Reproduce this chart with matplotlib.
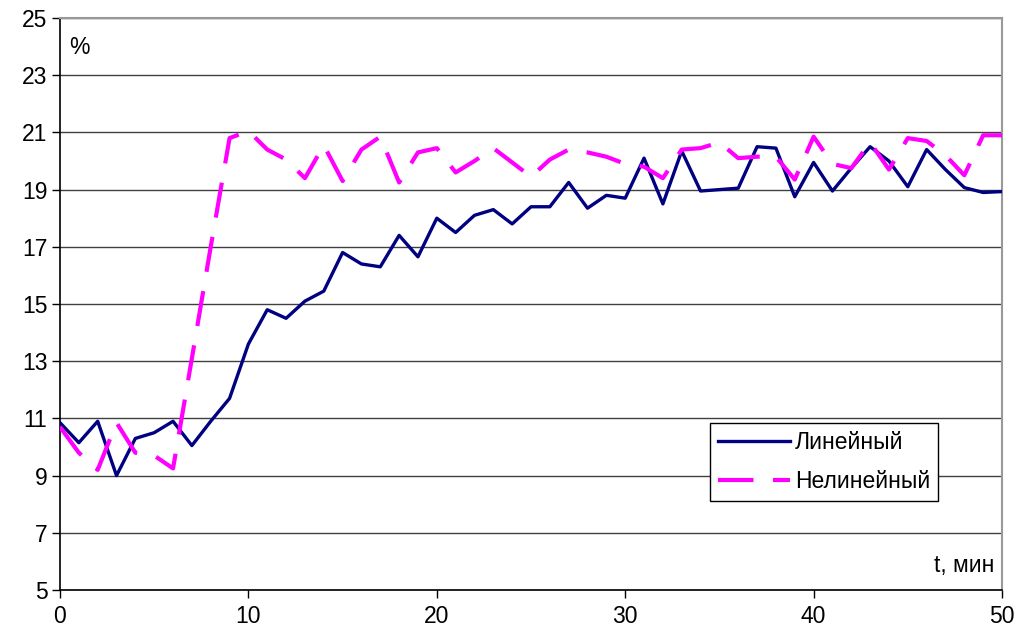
import numpy as np
import matplotlib
matplotlib.use('Agg')
import matplotlib.pyplot as plt

plt.rcParams['font.family'] = ['Liberation Sans', 'DejaVu Sans']

# Данные
t = np.arange(0, 51)
linear = [10.85, 10.15, 10.9, 9.0, 10.3, 10.5, 10.9, 10.05, 10.9, 11.7,
          13.6, 14.8, 14.5, 15.1, 15.45, 16.8, 16.4, 16.3, 17.4, 16.65,
          18.0, 17.5, 18.1, 18.3, 17.8, 18.4, 18.4, 19.25, 18.35, 18.8,
          18.7, 20.1, 18.5, 20.35, 18.95, 19.0, 19.05, 20.5, 20.45, 18.75,
          19.95, 18.95, 19.75, 20.5, 20.0, 19.1, 20.4, 19.7, 19.07, 18.9,
          18.93]
nonlinear = [10.7, 9.8, 9.2, 10.85, 9.8, 9.7, 9.25, 13.1, 17.0, 20.8,
             21.05, 20.4, 20.05, 19.4, 20.55, 19.3, 20.4, 20.85, 19.25, 20.3,
             20.45, 19.6, 20.0, 20.45, 19.95, 19.45, 20.05, 20.4, 20.3, 20.15,
             19.9, 19.8, 19.4, 20.4, 20.45, 20.65, 20.1, 20.15, 20.15, 19.35,
             20.85, 19.9, 19.75, 20.65, 19.7, 20.8, 20.7, 20.2, 19.5, 20.9,
             20.9]

fig = plt.figure(figsize=(10.2, 6.39), dpi=100)
ax = fig.add_axes([60/1020, 1 - 590/639, 942/1020, 572/639])

ax.plot(t, linear, color='#000080', lw=2.4, label='Линейный', zorder=3)
ax.plot(t, nonlinear, color='#FF00FF', lw=3.0, dashes=(8.5, 4.7), label='Нелинейный', zorder=3)

ax.set_xlim(0, 50)
ax.set_ylim(5, 25)
ax.set_xticks(range(0, 51, 10))
ax.set_yticks(range(5, 26, 2))
ax.yaxis.grid(True, color='#404040', lw=1.0)
ax.set_axisbelow(True)

ax.tick_params(axis='both', direction='out', length=6, width=1, labelsize=16.5, color='black')
ax.tick_params(axis='x', pad=5)
ax.tick_params(axis='y', pad=3)

for s in ['left', 'bottom']:
    ax.spines[s].set_color('black')
    ax.spines[s].set_linewidth(1.2)
for s in ['top', 'right']:
    ax.spines[s].set_color('#999999')
    ax.spines[s].set_linewidth(1.5)

ax.text(0.010, 0.968, '%', transform=ax.transAxes, fontsize=16.5, ha='left', va='top')
ax.text(0.992, 0.022, 't, мин', transform=ax.transAxes, fontsize=16.5, ha='right', va='bottom')

leg = ax.legend(loc='lower left', bbox_to_anchor=(0.690, 0.155), fontsize=16.5,
                frameon=True, fancybox=False, edgecolor='black', framealpha=1,
                handlelength=3.15, handletextpad=0.2, borderpad=0.35,
                labelspacing=0.7, borderaxespad=0)
leg.get_frame().set_linewidth(1.0)

plt.savefig('out.png', dpi=100)
